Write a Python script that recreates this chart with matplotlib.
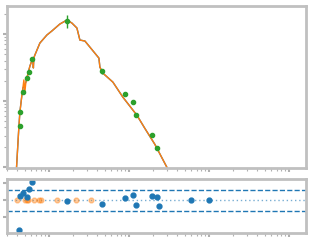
import matplotlib
matplotlib.use("Agg")
import matplotlib.pyplot as plt
import numpy as np

# model curves (blue underneath, orange on top)
model_x = [0.39, 0.422, 0.434, 0.46, 0.473, 0.487, 0.501, 0.516, 0.531, 0.562, 0.579,
           0.613, 0.631, 0.640, 0.649, 0.668, 0.772, 0.944, 1.09, 1.37, 1.68, 1.94, 2.24,
           2.44, 2.82, 3.25, 4.22, 4.34, 4.73, 6.31, 8.41, 12.6, 15.8, 21.1, 29.9, 38.0]
model_blue = [0.8, 4.1, 6.7, 12.1, 15.4, 16.5, 17.5, 19.0, 21.8, 28.7, 33.0,
              40.0, 42.1, 31.0, 44.0, 48.3, 73.2, 96.6, 111, 141, 162, 146, 123,
              81.2, 78.5, 63.8, 43.5, 31.9, 25.9, 19.0, 11.3, 6.05, 3.86, 2.22, 1.0, 0.6]
model_orange = [0.8, 4.1, 6.7, 12.1, 15.4, 20.5, 13.5, 19.0, 21.8, 28.7, 33.0,
                40.0, 44.0, 31.0, 44.0, 48.3, 73.2, 96.6, 111, 141, 162, 146, 123,
                81.2, 78.5, 63.8, 43.5, 31.9, 25.9, 19.0, 11.3, 6.05, 3.86, 2.22, 1.0, 0.6]

# observed photometry
obs_x = [0.434, 0.434, 0.473, 0.531, 0.562, 0.613, 1.68, 4.60, 8.91, 11.2, 12.2, 19.4, 22.4]
obs_y = [4.14, 6.72, 13.4, 21.8, 26.8, 42.1, 157, 27.8, 12.5, 9.49, 6.05, 3.03, 1.93]
obs_err = [0.2, 0.3, 0.6, 1.0, 1.2, 2.0, 35, 2.5, 0.5, 0.4, 0.3, 0.15, 0.1]

# residuals
res_x = [0.422, 0.434, 0.473, 0.531, 0.562, 0.613, 1.68, 4.60, 8.91, 11.2, 12.2,
         19.4, 22.4, 23.7, 59.6, 100]
res_y = [-1.76, 0.24, 0.41, 0.18, 0.65, 1.06, -0.06, -0.24, 0.12, 0.29, -0.29,
         0.24, 0.18, -0.35, 0.0, 0.0]
lim_x = [0.398, 0.501, 0.531, 0.546, 0.649, 0.75, 0.794, 1.26, 2.18, 3.35]
lim_y = [0, 0, 0, 0, 0, 0, 0, 0, 0, 0]

fig = plt.figure(figsize=(3.2, 2.4), dpi=100)
ax = fig.add_axes([0.022, 0.30, 0.934, 0.675])
ax2 = fig.add_axes([0.022, 0.029, 0.934, 0.225])

ax.plot(model_x, model_blue, color="tab:blue", lw=1)
ax.plot(model_x, model_orange, color="tab:orange", lw=1)
ax.errorbar(obs_x, obs_y, yerr=obs_err, fmt="o", color="tab:green", ms=3, elinewidth=1)
ax.set_xscale("log")
ax.set_yscale("log")
ax.set_xlim(0.3, 1630)
ax.set_ylim(0.98, 263)

ax2.axhline(0, color="tab:blue", ls=(0, (1, 2)), lw=1, alpha=0.6)
ax2.axhline(0.6, color="tab:blue", ls="--", lw=1)
ax2.axhline(-0.65, color="tab:blue", ls="--", lw=1)
ax2.plot(lim_x, lim_y, "o", color="tab:orange", ms=3.5, alpha=0.4)
ax2.errorbar(res_x, res_y, xerr=[0, 0, 0, 0, 0, 0, 0, 0, 0, 0, 0, 0, 0, 0, 4, 6],
             fmt="o", color="tab:blue", ms=3.5, ecolor="#9ecae1", elinewidth=1)
ax2.set_xscale("log")
ax2.set_xlim(0.3, 1630)
ax2.set_ylim(-1.94, 1.24)
ax2.set_yticks([-1, 0, 1])

for a in (ax, ax2):
    for s in a.spines.values():
        s.set_color("#c0c0c0")
        s.set_linewidth(2)
    a.tick_params(which="both", colors="#b0b0b0", labelleft=False, labelbottom=False,
                  length=2, width=0.8)
    a.tick_params(which="major", length=3, width=1.5)

fig.savefig("out.png", dpi=100)
